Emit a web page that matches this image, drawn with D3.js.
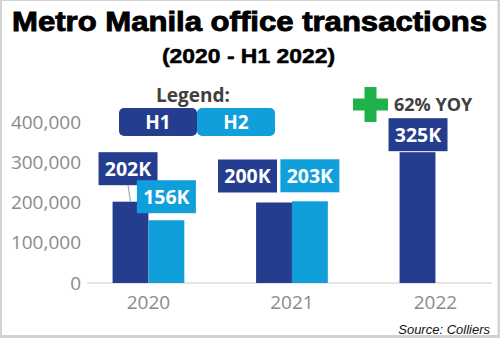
<!DOCTYPE html>
<html>
<head>
<meta charset="utf-8">
<script src="https://cdn.jsdelivr.net/npm/d3@7"></script>
<style>
  html, body { margin: 0; padding: 0; background: #fff; }
  svg { display: block; }
</style>
</head>
<body>
<svg id="chart" width="500" height="338"></svg>
<script>
// ---- data ----
const categories = ["2020", "2021", "2022"];
const seriesNames = ["H1", "H2"];
const h1Values = [202000, 200000, 325000];
const h2Values = [156000, 203000, null];
const h1Labels = ["202K", "200K", "325K"];
const h2Labels = ["156K", "203K", null];
const yTicks = [0, 100000, 200000, 300000, 400000];
const titleText = "Metro Manila office transactions";
const subtitleText = "(2020 - H1 2022)";
const growthText = "62% YOY";
const sourceText = "Source: Colliers";

// ---- styles / layout ----
const colors = { H1: "#253d8e", H2: "#109fda", green: "#1fb24a", text: "#404040", axis: "#8a8a8a" };
// label box offsets relative to bar (dx from bar center, gap above bar top)
const labelLayout = {
  H1: [{ dx: -2.5, gap: 16.5 }, { dx: -26.5, gap: 10 }, { dx: 0.5, gap: 1 }],
  H2: [{ dx: 0, gap: 7 }, { dx: 0, gap: 9 }, null]
};

const svg = d3.select("#chart");
const W = 500, H = 338;

// frame
svg.append("rect").attr("x", 0).attr("y", 0).attr("width", W).attr("height", H).attr("fill", "#d2d2d2");
svg.append("rect").attr("x", 2).attr("y", 1).attr("width", 495.5).attr("height", 334).attr("fill", "#fff");

// title
svg.append("text").attr("x", 249.5).attr("y", 31).attr("text-anchor", "middle")
  .attr("font-family", "Liberation Sans, Arial, sans-serif").attr("font-weight", "bold")
  .attr("font-size", 27).attr("textLength", 475).attr("lengthAdjust", "spacingAndGlyphs")
  .attr("fill", "#000").attr("stroke", "#000").attr("stroke-width", 0.9)
  .text(titleText);
svg.append("text").attr("x", 248.5).attr("y", 63).attr("text-anchor", "middle")
  .attr("font-family", "Liberation Sans, Arial, sans-serif").attr("font-weight", "bold")
  .attr("font-size", 21).attr("textLength", 173).attr("lengthAdjust", "spacingAndGlyphs")
  .attr("fill", "#000").attr("stroke", "#000").attr("stroke-width", 0.5)
  .text(subtitleText);

// scales
const x = d3.scaleBand().domain(categories).range([76.7, 507.2]).paddingInner(0.5).paddingOuter(0.25);
const xs = d3.scaleBand().domain(seriesNames).range([0, x.bandwidth()]);
const y = d3.scaleLinear().domain([0, 400000]).range([283, 122]);

// baseline
svg.append("line").attr("x1", 87).attr("x2", 492).attr("y1", y(0)).attr("y2", y(0))
  .attr("stroke", "#dcdcdc").attr("stroke-width", 1.5);

// y axis
const yAxis = svg.append("g").attr("transform", "translate(88,0)")
  .call(d3.axisLeft(y).tickValues(yTicks).tickFormat(d3.format(",")).tickSize(0).tickPadding(7));
yAxis.select(".domain").remove();
yAxis.selectAll("text").attr("font-family", "Open Sans, sans-serif").attr("font-size", 19)
  .attr("fill", colors.axis);

// x axis
const xAxis = svg.append("g").attr("transform", `translate(0,${y(0)})`)
  .call(d3.axisBottom(x).tickSize(0).tickPadding(12.5));
xAxis.select(".domain").remove();
xAxis.selectAll("text").attr("font-family", "Open Sans, sans-serif").attr("font-size", 19)
  .attr("fill", colors.axis);

// bars
const barData = [];
categories.forEach((c, i) => {
  if (h1Values[i] != null) barData.push({ cat: c, s: "H1", v: h1Values[i], label: h1Labels[i], lay: labelLayout.H1[i] });
  if (h2Values[i] != null) barData.push({ cat: c, s: "H2", v: h2Values[i], label: h2Labels[i], lay: labelLayout.H2[i] });
});

svg.append("g").selectAll("rect").data(barData).join("rect")
  .attr("x", d => x(d.cat) + xs(d.s))
  .attr("width", xs.bandwidth())
  .attr("y", d => y(d.v))
  .attr("height", d => y(0) - y(d.v))
  .attr("fill", d => colors[d.s]);

// labels
const boxW = 59, boxH = 33;
const lbl = svg.append("g");
barData.forEach(d => {
  const cx = x(d.cat) + xs(d.s) + xs.bandwidth() / 2;
  const top = y(d.v);
  const bx = cx + d.lay.dx - boxW / 2;
  const by = top - d.lay.gap - boxH;
  if (d.lay.gap > 12) {
    lbl.append("line").attr("x1", bx + boxW / 2).attr("y1", by + boxH)
      .attr("x2", cx).attr("y2", top).attr("stroke", "#aaa").attr("stroke-width", 1.2);
  }
  lbl.append("rect").attr("x", bx).attr("y", by).attr("width", boxW).attr("height", boxH)
    .attr("fill", colors[d.s]);
  lbl.append("text").attr("x", bx + boxW / 2).attr("y", by + boxH / 2 + 7)
    .attr("text-anchor", "middle").attr("font-family", "Open Sans, sans-serif")
    .attr("font-weight", "bold").attr("font-size", 19.5).attr("fill", "#fff").text(d.label);
});

// legend
svg.append("text").attr("x", 193).attr("y", 102).attr("text-anchor", "middle")
  .attr("font-family", "Open Sans, sans-serif").attr("font-weight", "bold")
  .attr("font-size", 19).attr("fill", colors.text).text("Legend:");
const legX = 119, legW = 78, legY = 108, legH = 28;
seriesNames.forEach((s, i) => {
  svg.append("rect").attr("x", legX + i * legW).attr("y", legY).attr("width", legW).attr("height", legH)
    .attr("rx", 5).attr("fill", colors[s]);
  svg.append("text").attr("x", legX + i * legW + legW / 2).attr("y", legY + legH / 2 + 7)
    .attr("text-anchor", "middle").attr("font-family", "Open Sans, sans-serif")
    .attr("font-weight", "bold").attr("font-size", 19).attr("fill", "#fff").text(s);
});

// growth annotation
const pcx = 370.5, pcy = 104.5, arm = 17.5, th = 12;
svg.append("rect").attr("x", pcx - th / 2).attr("y", pcy - arm).attr("width", th).attr("height", arm * 2).attr("fill", colors.green);
svg.append("rect").attr("x", pcx - arm).attr("y", pcy - th / 2).attr("width", arm * 2).attr("height", th).attr("fill", colors.green);
svg.append("text").attr("x", 394).attr("y", 110.5)
  .attr("font-family", "Open Sans, sans-serif").attr("font-weight", "bold")
  .attr("font-size", 18).attr("fill", colors.text).text(growthText);

// source
svg.append("text").attr("x", 490).attr("y", 333.5).attr("text-anchor", "end")
  .attr("font-family", "Liberation Sans, Arial, sans-serif").attr("font-style", "italic")
  .attr("font-size", 13).attr("fill", "#111").text(sourceText);
</script>
</body>
</html>
